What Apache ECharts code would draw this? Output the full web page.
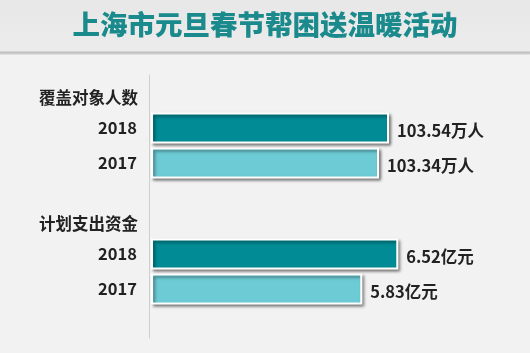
<!DOCTYPE html>
<html>
<head>
<meta charset="utf-8">
<script src="https://cdn.jsdelivr.net/npm/echarts@6/dist/echarts.min.js"></script>
<style>
  html, body { margin: 0; padding: 0; }
  body {
    width: 530px; height: 353px;
    background: linear-gradient(to bottom, #e7e7e7 0, #ececec 51px, #bdbdbd 52px, #cfcfcf 54px, #f2f2f2 55px, #f2f2f2 100%);
  }
  #main { width: 530px; height: 353px; }
</style>
</head>
<body>
<div id="main"></div>
<script>
const titleText = '上海市元旦春节帮困送温暖活动'
const years = ['2017', '2018']
const groupNames = ['覆盖对象人数', '计划支出资金']
// 覆盖对象人数 (万人), 计划支出资金 (亿元), order: 2017, 2018
const peopleValues = [103.34, 103.54]
const fundValues = [5.83, 6.52]
const units = ['万人', '亿元']

const darkTeal = '#008b95'
const lightTeal = '#6ccbd5'
const textFont = '"Noto Sans CJK SC", "Microsoft YaHei", sans-serif'

const chart = echarts.init(document.getElementById('main'))

const barStyle = (color) => ({
  color: color,
  borderColor: '#ffffff',
  borderWidth: 2,
  shadowColor: 'rgba(0,0,0,0.45)',
  shadowBlur: 3,
  shadowOffsetX: 2,
  shadowOffsetY: 2
})

const catAxis = (idx, name) => ({
  type: 'category',
  gridIndex: idx,
  data: years,
  name: name,
  nameLocation: 'end',
  nameGap: 5,
  nameTextStyle: {
    align: 'right',
    padding: [0, 14, 0, 0],
    color: '#222',
    fontSize: 16.5,
    fontWeight: 'bold',
    fontFamily: textFont
  },
  axisLine: { show: false },
  axisTick: { show: false },
  axisLabel: {
    margin: 15,
    color: '#222',
    fontSize: 16.5,
    fontWeight: 'bold',
    fontFamily: textFont
  }
})

const valAxis = (idx, min, max) => ({
  type: 'value',
  gridIndex: idx,
  min: min,
  max: max,
  show: false
})

const makeSeries = (idx, values, unit) => ({
  type: 'bar',
  xAxisIndex: idx,
  yAxisIndex: idx,
  barWidth: 31,
  data: values.map((v, i) => ({
    value: v,
    itemStyle: barStyle(i === 1 ? darkTeal : lightTeal)
  })),
  label: {
    show: true,
    position: 'right',
    distance: 8,
    offset: [0, 3],
    color: '#222',
    fontSize: 16.5,
    fontWeight: 'bold',
    fontFamily: textFont,
    formatter: (p) => p.value + unit
  }
})

const option = {
  animation: false,
  title: {
    text: titleText,
    left: 'center',
    top: 6,
    textStyle: {
      color: '#1a8a8c',
      fontSize: 27.5,
      fontWeight: 900,
      fontFamily: textFont
    }
  },
  grid: [
    { left: 149, top: 75, bottom: 15, width: 1 },
    { left: 152, top: 110.5, height: 70, right: 78 },
    { left: 152, top: 236.5, height: 70, right: 78 }
  ],
  xAxis: [
    { type: 'value', gridIndex: 0, show: false },
    valAxis(1, 98.8, 104.8),
    valAxis(2, 1.8, 7.55)
  ],
  yAxis: [
    {
      type: 'value', gridIndex: 0,
      axisLine: { show: true, lineStyle: { color: '#cfcfcf', width: 1 } },
      axisTick: { show: false },
      axisLabel: { show: false },
      splitLine: { show: false }
    },
    catAxis(1, groupNames[0]),
    catAxis(2, groupNames[1])
  ],
  series: [
    makeSeries(1, peopleValues, units[0]),
    makeSeries(2, fundValues, units[1])
  ]
}

chart.setOption(option)
</script>
</body>
</html>
